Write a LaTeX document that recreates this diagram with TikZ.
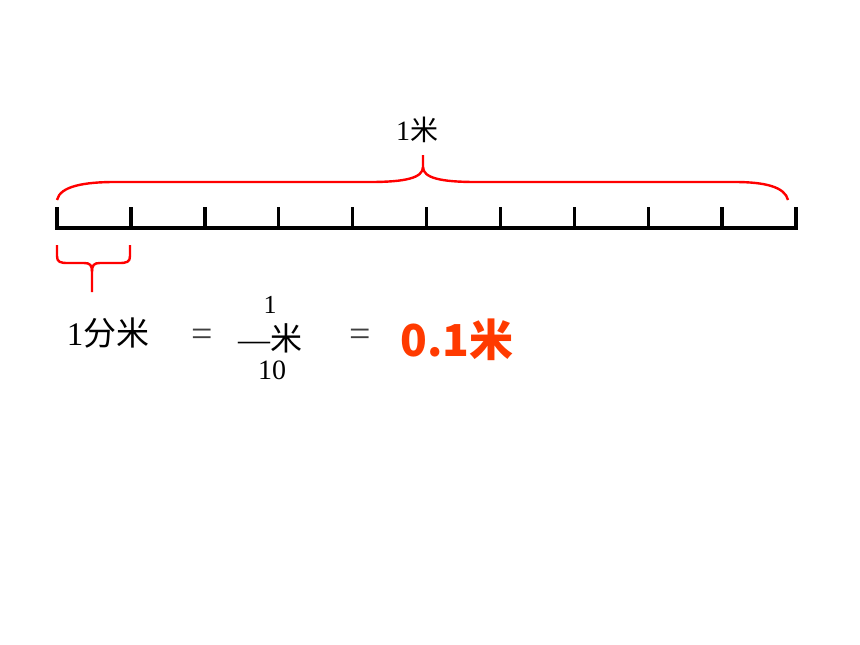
\documentclass[tikz,border=0pt]{standalone}
\usepackage{fontspec}
\setmainfont{Liberation Serif}
\newfontfamily\cjk{Noto Sans CJK SC}
\usetikzlibrary{positioning}
\definecolor{hot}{RGB}{255,58,0}
\tikzset{
  ruler/.style  = {line width=3.4pt, black},
  brace/.style  = {line width=2.4pt, red},
  lbl/.style    = {inner sep=0pt, font=\fontsize{28}{28}\selectfont},
  big/.style    = {inner sep=0pt, font=\fontsize{33}{33}\selectfont},
  eq/.style     = {inner sep=0pt, gray!50!black, font=\fontsize{38}{38}\selectfont},
  answer/.style = {inner sep=0pt, hot, font=\cjk\bfseries\fontsize{44}{44}\selectfont},
}
\begin{document}
\begin{tikzpicture}[x=1pt, y=-1pt]
  \useasboundingbox (0,0) rectangle (860,645);
  % ruler, ten parts
  \draw[ruler] (57,207) -- (57,228) -- (796,228) -- (796,207);
  \foreach \i in {1,...,9}
    \draw[ruler] ({57+73.9*\i},228) -- ++(0,-21);
  % brace for the whole metre
  \coordinate (mL) at (57,200);
  \coordinate (mR) at (788,200);
  \coordinate (mTip) at (423,155);
  \draw[brace] (mL) .. controls (60,186) and (85,182) .. (115,182) -- (370,182)
    .. controls (405,182) and (423,178) .. (423,167) -- (mTip);
  \draw[brace] (423,167) .. controls (423,178) and (441,182) .. (476,182) -- (735,182)
    .. controls (765,182) and (785,187) .. (mR);
  % brace for one part
  \coordinate (dL) at (57,245);
  \coordinate (dR) at (130,245);
  \coordinate (dTip) at (92,292);
  \draw[brace] (dL) -- (57,256) .. controls (57,262) and (60,263) .. (68,263) -- (84,263)
    .. controls (90,263) and (92,265) .. (92,272) -- (dTip);
  \draw[brace] (dR) -- (130,256) .. controls (130,262) and (127,263) .. (119,263) -- (100,263)
    .. controls (94,263) and (92,265) .. (92,272);
  % labels
  \node[lbl] (metre) at (417,130) {1{\cjk 米}};
  \node[big] (dm) at (108,333) {1{\cjk 分米}};
  \node[eq] (eqa) at (202,338) {=};
  \node[inner sep=0pt, font=\fontsize{26}{26}\selectfont] (num) at (270,305) {1};
  \node[inner sep=0pt, font=\fontsize{32}{32}\selectfont] (bar) at (270,338) {\textemdash{\cjk 米}};
  \node[lbl] (den) at (272,370) {10};
  \node[eq] (eqb) at (360,338) {=};
  \node[answer] (res) at (457,340) {0.1米};
\end{tikzpicture}
\end{document}
